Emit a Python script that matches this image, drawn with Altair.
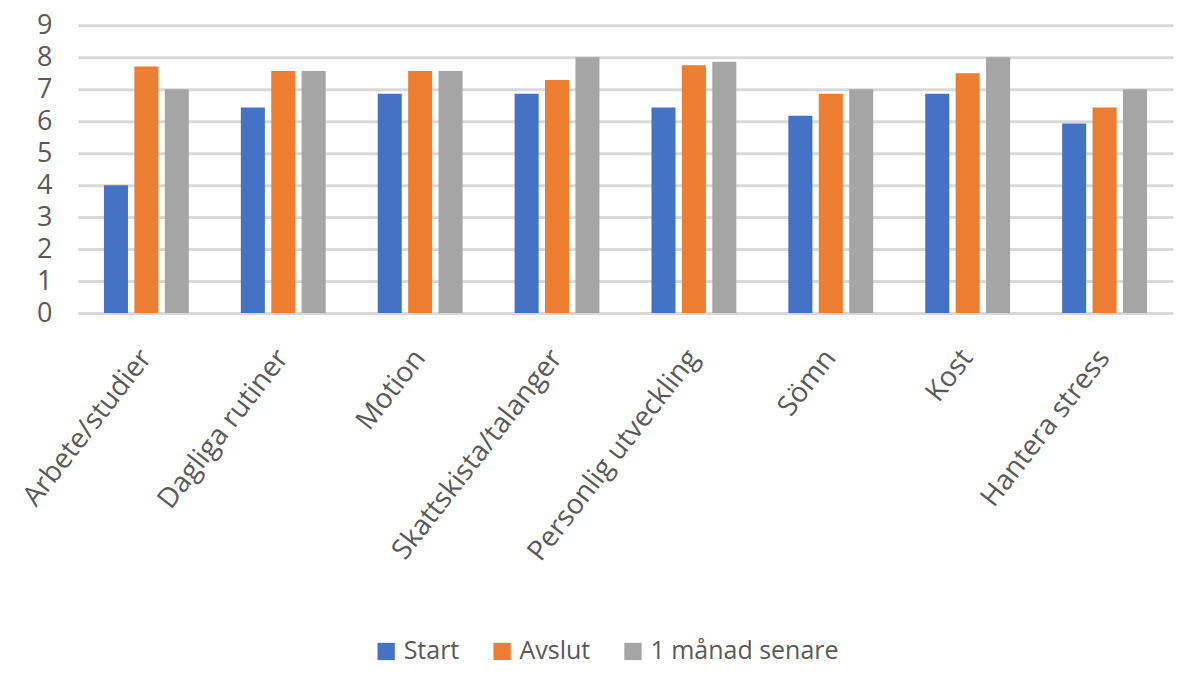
import altair as alt
import pandas as pd

categories = ["Arbete/studier", "Dagliga rutiner", "Motion", "Skattskista/talanger",
              "Personlig utveckling", "Sömn", "Kost", "Hantera stress"]
series = ["Start", "Avslut", "1 månad senare"]
start = [4.0, 6.43, 6.86, 6.86, 6.43, 6.17, 6.86, 5.93]
avslut = [7.71, 7.57, 7.57, 7.29, 7.75, 6.86, 7.5, 6.43]
senare = [7.0, 7.57, 7.57, 8.0, 7.86, 7.0, 8.0, 7.0]
colors = ["#4472C4", "#ED7D31", "#A5A5A5"]
y_ticks = list(range(0, 10))

rows = []
for name, vals in zip(series, [start, avslut, senare]):
    for c, v in zip(categories, vals):
        rows.append({"Kategori": c, "Serie": name, "Värde": v})
df = pd.DataFrame(rows)

font = "Open Sans"

chart = alt.Chart(df).mark_bar().encode(
    x=alt.X("Kategori:N", sort=categories, title=None,
            scale=alt.Scale(paddingInner=0.38, paddingOuter=0.19),
            axis=alt.Axis(labelAngle=-52, labelFontSize=28, labelFont=font,
                          labelColor="#595959", labelPadding=40, ticks=False,
                          tickSize=0, domain=False, labelLimit=400)),
    xOffset=alt.XOffset("Serie:N", sort=series,
                        scale=alt.Scale(paddingInner=0.21, paddingOuter=0)),
    y=alt.Y("Värde:Q", title=None,
            scale=alt.Scale(domain=[0, 9], nice=False),
            axis=alt.Axis(values=y_ticks, grid=True, gridColor="#D9D9D9",
                          gridWidth=3, domain=False, ticks=False, tickSize=0,
                          labelFontSize=27, labelFont=font, labelColor="#595959",
                          labelPadding=26)),
    color=alt.Color("Serie:N", sort=series,
                    scale=alt.Scale(domain=series, range=colors),
                    legend=alt.Legend(title=None, orient="none", direction="horizontal",
                                      legendX=296, legendY=614,
                                      symbolType="square", symbolSize=300,
                                      symbolStrokeWidth=0, labelFontSize=25,
                                      labelFont=font, labelColor="#595959",
                                      labelOffset=5, columnPadding=30,
                                      labelLimit=400)),
).properties(
    width=1096, height=288,
    autosize="none",
    padding={"left": 70, "top": 17, "right": 10, "bottom": 351},
).configure_view(stroke=None)

chart.save("out.html", embed_options={"renderer": "svg", "actions": False})
